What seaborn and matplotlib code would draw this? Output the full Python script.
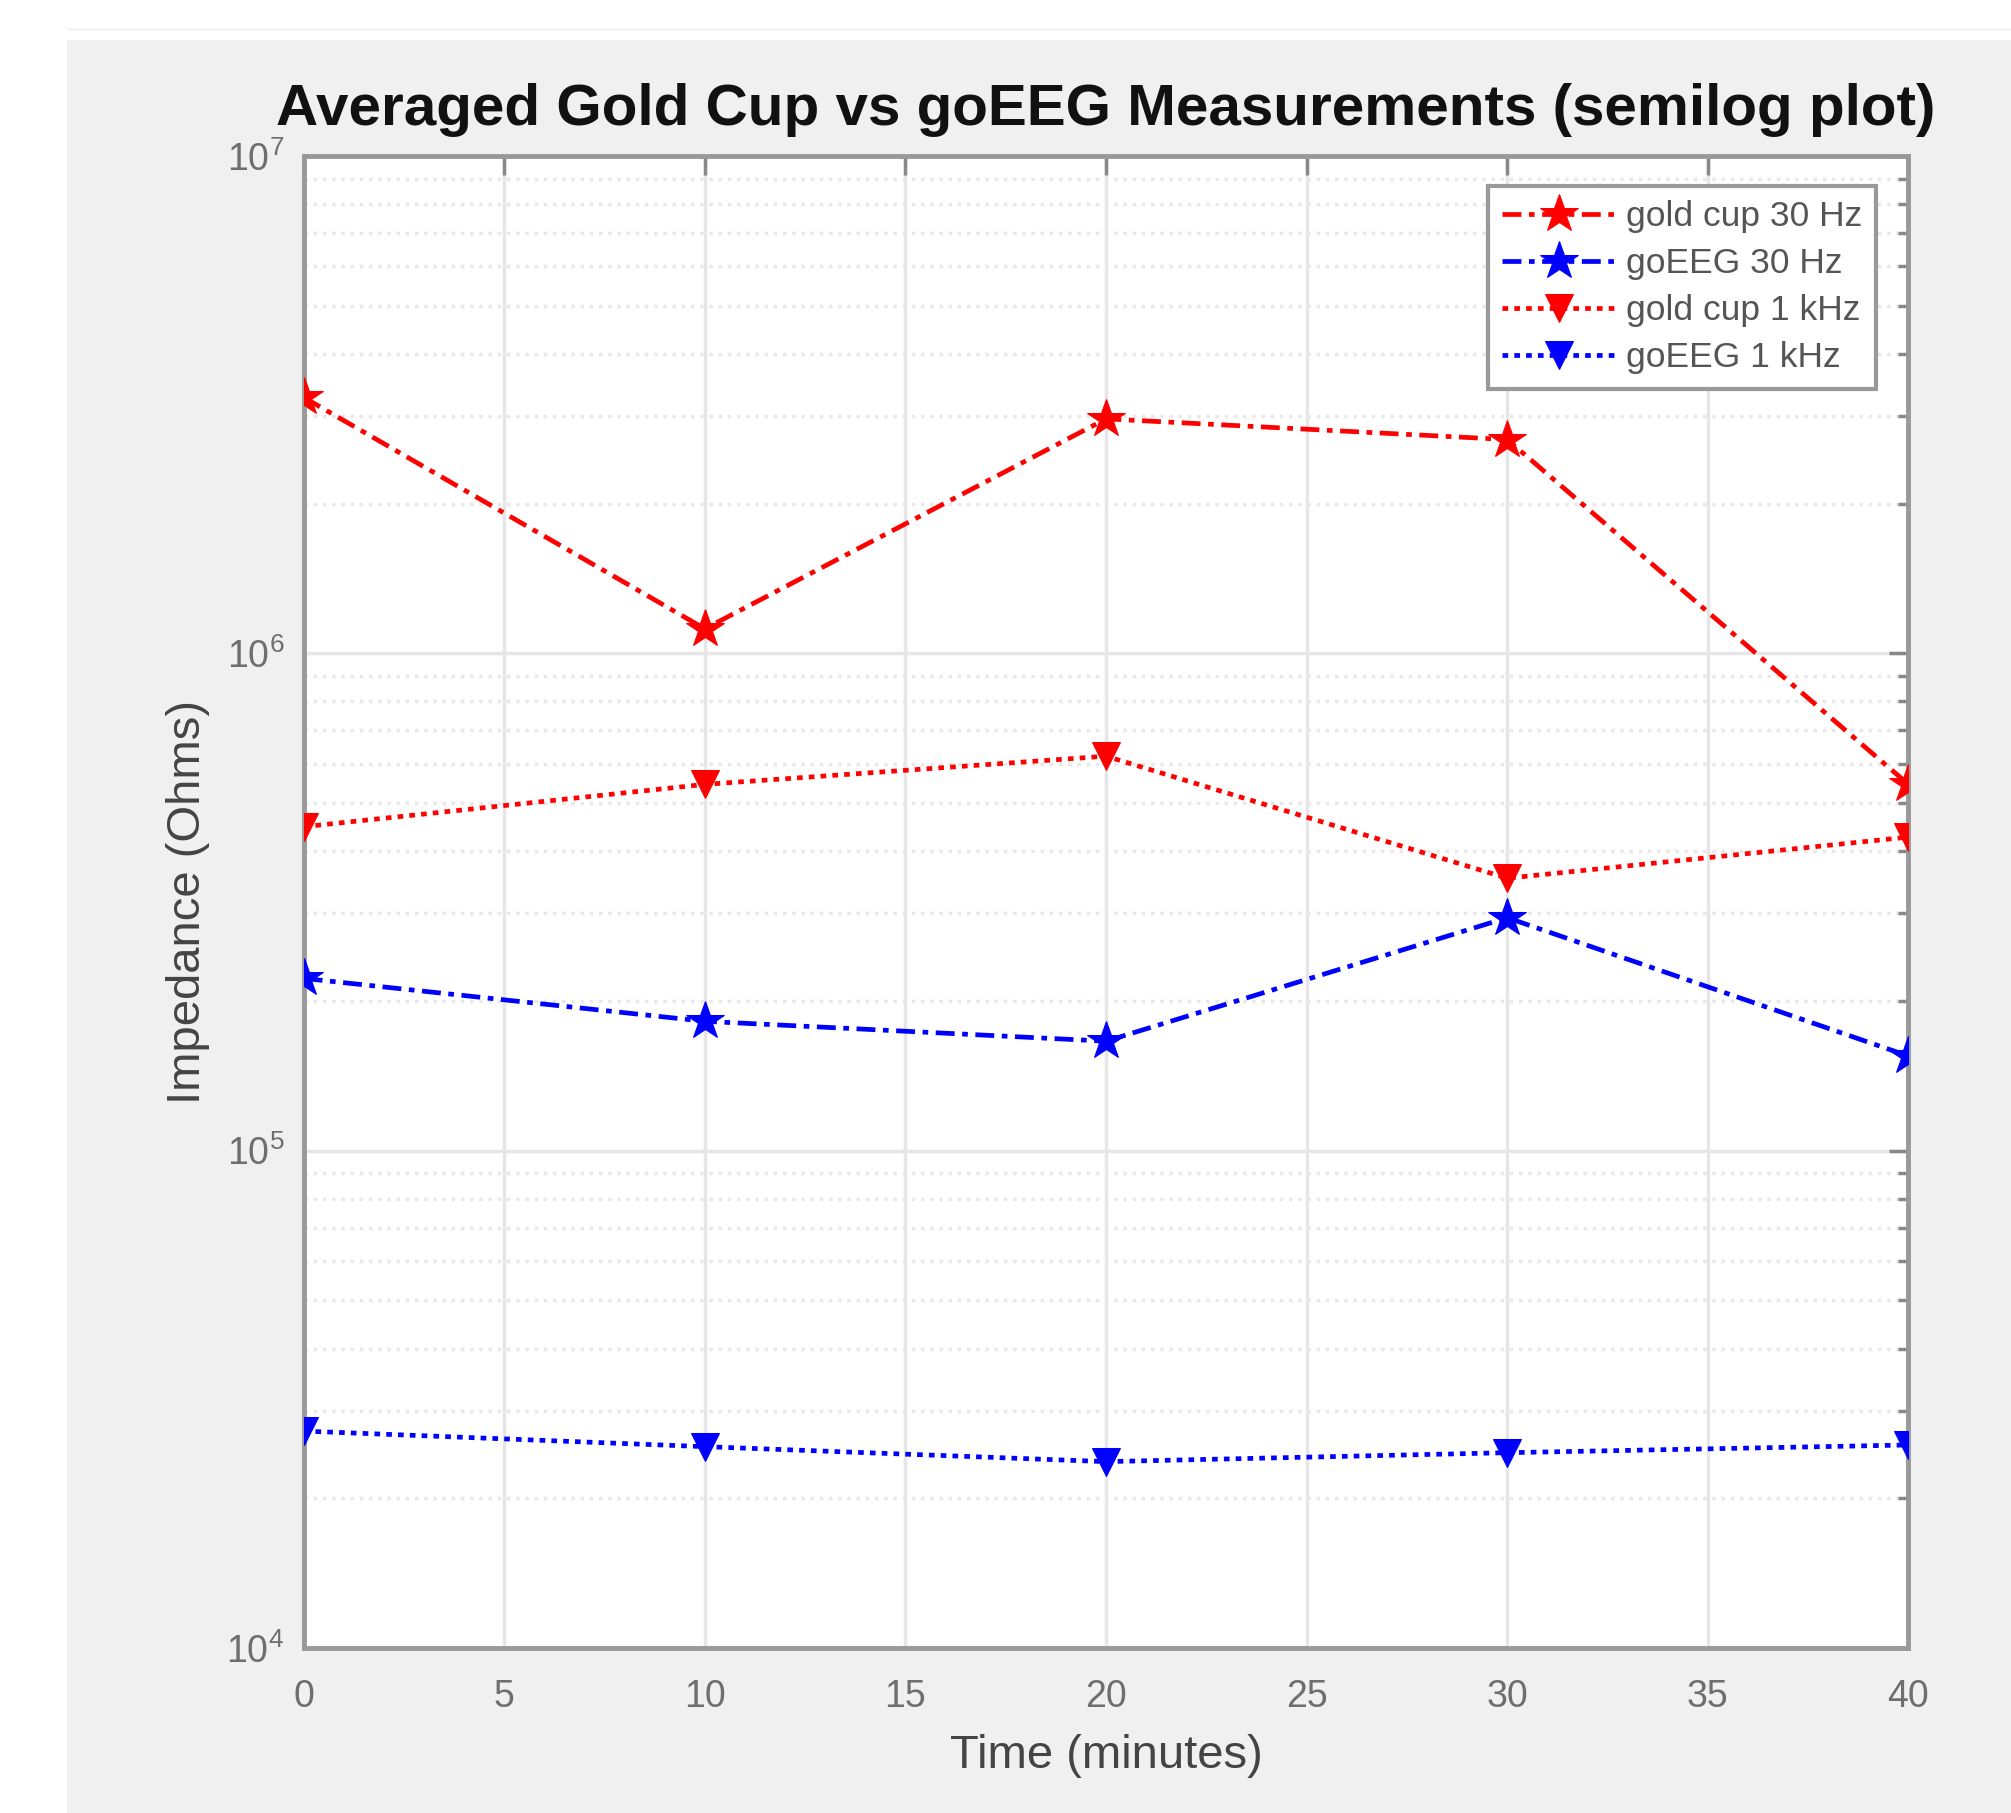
import numpy as np
import pandas as pd
import matplotlib
matplotlib.use('Agg')
import matplotlib.pyplot as plt
from matplotlib.patches import Rectangle
from matplotlib.ticker import LogLocator, MultipleLocator, NullFormatter
import seaborn as sns

# data (impedance in Ohms)
time_min = [0, 10, 20, 30, 40]
gold_30hz = [3.27e6, 1.12e6, 2.96e6, 2.69e6, 5.45e5]
goeeg_30hz = [2.22e5, 1.82e5, 1.66e5, 2.94e5, 1.55e5]
gold_1khz = [4.48e5, 5.45e5, 6.21e5, 3.53e5, 4.27e5]
goeeg_1khz = [2.73e4, 2.54e4, 2.37e4, 2.47e4, 2.56e4]
series_names = ['gold cup 30 Hz', 'goEEG 30 Hz', 'gold cup 1 kHz', 'goEEG 1 kHz']

sns.set_style('white')
plt.rcParams['font.family'] = ['Liberation Sans', 'DejaVu Sans']

fig = plt.figure(figsize=(20.11, 18.13), dpi=100, facecolor='white')
# matlab style grey window
fig.patches.append(Rectangle((67/2011, 0), 1, 1 - 40/1813, transform=fig.transFigure,
                             facecolor='#f0f0f0', edgecolor='none', zorder=-10))
fig.patches.append(Rectangle((67/2011, 1 - 31/1813), 1, 3/1813, transform=fig.transFigure,
                             facecolor='#f4f4f4', edgecolor='none', zorder=-10))

ax = fig.add_axes([0.151, 0.091, 0.798, 0.823])
ax.set_facecolor('white')

dashdot = (0, (4, 1.6, 1.2, 1.6))
dotted = (0, (1.2, 1.3))
styles = [
    (gold_30hz, 'red', dashdot, '*', 29),
    (goeeg_30hz, 'blue', dashdot, '*', 29),
    (gold_1khz, 'red', dotted, 'v', 20),
    (goeeg_1khz, 'blue', dotted, 'v', 20),
]
for name, (vals, col, ls, mk, ms) in zip(series_names, styles):
    df = pd.DataFrame({'t': time_min, 'z': vals})
    sns.lineplot(data=df, x='t', y='z', ax=ax, color=col, linestyle=ls, linewidth=3.4,
                 marker=mk, markersize=ms, markeredgecolor=col, markerfacecolor=col,
                 legend=False, zorder=3)

ax.set_yscale('log')
ax.set_xlim(0, 40)
ax.set_ylim(1e4, 1e7)
ax.xaxis.set_major_locator(MultipleLocator(5))
ax.yaxis.set_major_locator(LogLocator(base=10, numticks=10))
ax.yaxis.set_minor_locator(LogLocator(base=10, subs=np.arange(2, 10), numticks=20))
ax.yaxis.set_minor_formatter(NullFormatter())

ax.grid(which='major', color='#e6e6e6', linestyle='-', linewidth=2.5, zorder=0)
ax.grid(which='minor', axis='y', color='#e8e8e8', linestyle=':', linewidth=2.5, zorder=0)
ax.set_axisbelow(True)

for sp in ax.spines.values():
    sp.set_color('#999999')
    sp.set_linewidth(3.5)
ax.tick_params(which='both', direction='in', top=True, right=True, colors='#888888',
               labelcolor='#6e6e6e', labelsize=27, width=2.5)
ax.tick_params(which='major', length=14, pad=14)
ax.tick_params(axis='x', which='major', pad=22)
ax.tick_params(which='minor', length=7)

ax.set_title('Averaged Gold Cup vs goEEG Measurements (semilog plot)', fontsize=42,
             fontweight='bold', color='#111111', pad=22)
ax.set_xlabel('Time (minutes)', fontsize=34, color='#444444', labelpad=14)
ax.set_ylabel('Impedance (Ohms)', fontsize=34, color='#444444', labelpad=12)

leg = ax.legend(handles=ax.lines, labels=series_names, loc='upper right',
                bbox_to_anchor=(0.98, 0.98), borderaxespad=0, fontsize=25.5,
                frameon=True, fancybox=False, framealpha=1, edgecolor='#999999',
                handlelength=3.2, labelspacing=0.4, handletextpad=0.3, borderpad=0.4)
leg.get_frame().set_linewidth(3)
for t in leg.get_texts():
    t.set_color('#555555')

fig.savefig('out.png', dpi=100, facecolor='white')
